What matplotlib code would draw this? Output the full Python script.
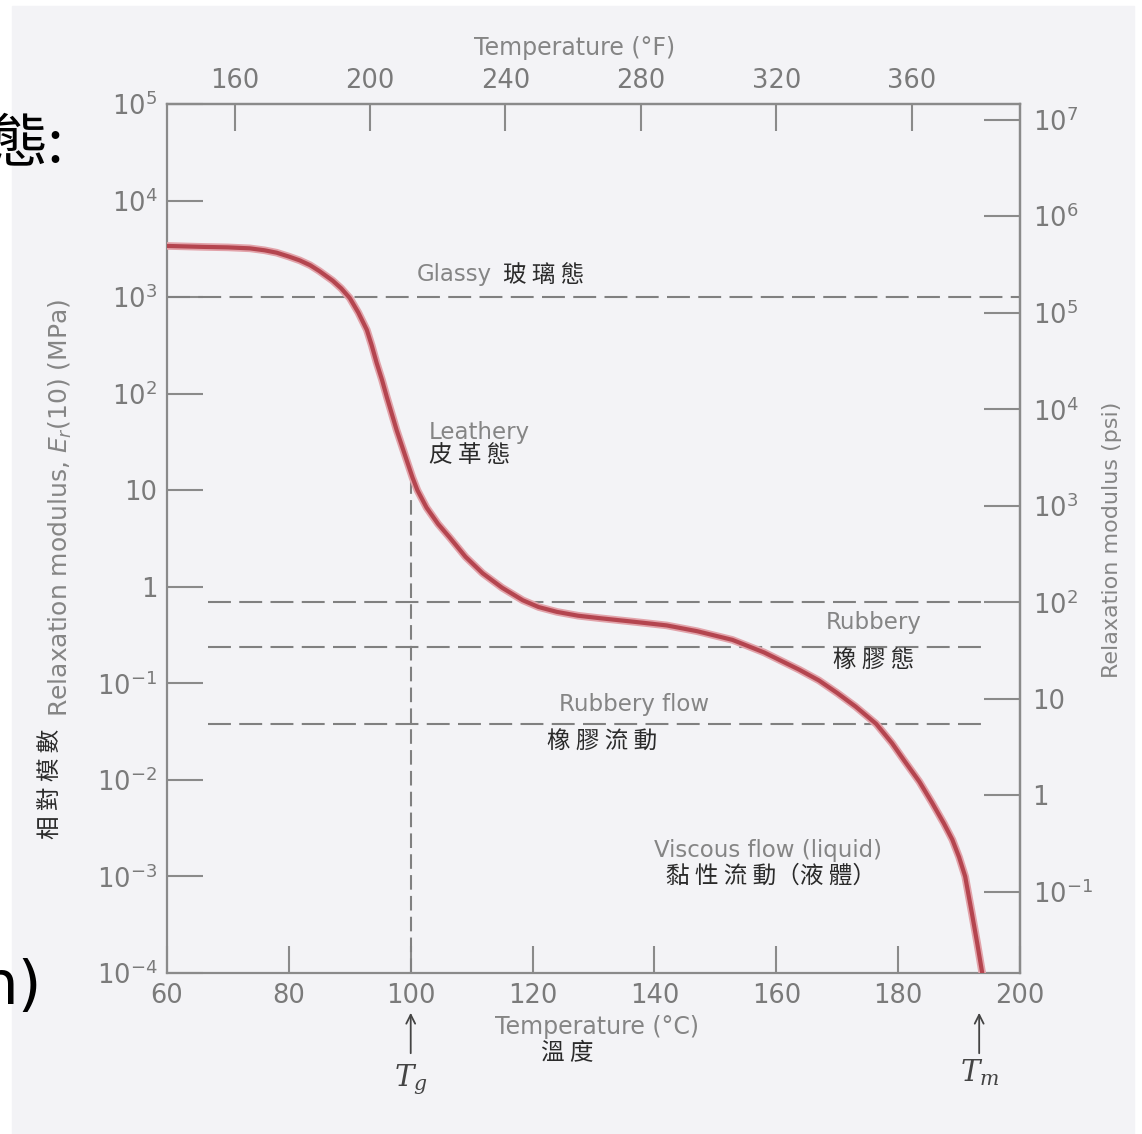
import numpy as np
import matplotlib
matplotlib.use("Agg")
import matplotlib.pyplot as plt
from matplotlib.ticker import NullLocator

plt.rcParams['font.family'] = ['DejaVu Sans', 'Noto Sans CJK TC']

# curve: temperature (C) and log10 of relaxation modulus (MPa)
temperature = [60, 66, 70, 73.6, 76, 78, 80, 81.8, 83.5, 85, 87.2, 88.6, 90, 91.4,
               92.8, 93.6, 94.4, 95.3, 96.1, 96.9, 97.7, 98.6, 99.5, 100.3, 101.1,
               102.6, 104.5, 106.4, 109, 111.8, 115, 118.4, 121, 124, 127.5, 131,
               137, 142, 147, 152.8, 158, 163.8, 167, 170, 173, 176.4, 179, 181,
               183.5, 185.6, 187.5, 188.9, 190, 191, 192.1, 193, 193.8]
log_modulus = [3.53, 3.52, 3.515, 3.505, 3.485, 3.46, 3.42, 3.38, 3.33, 3.27, 3.17,
               3.09, 2.99, 2.84, 2.66, 2.50, 2.32, 2.14, 1.96, 1.79, 1.62, 1.45,
               1.28, 1.13, 1.0, 0.82, 0.65, 0.51, 0.31, 0.14, -0.01, -0.14, -0.21,
               -0.26, -0.30, -0.325, -0.365, -0.40, -0.46, -0.55, -0.68, -0.86,
               -0.97, -1.10, -1.24, -1.42, -1.62, -1.80, -2.02, -2.24, -2.45, -2.62,
               -2.80, -3.0, -3.38, -3.70, -4.0]

# dashed region boundaries (MPa) and their extent in C
boundary_mpa = [1000, 0.69, 0.24, 0.038]
boundary_from = [60, 66.7, 66.7, 66.7]
boundary_to = [200, 193.8, 193.8, 193.8]

tg = 100
tg_modulus = 15
tm = 193.3

c_ticks = [60, 80, 100, 120, 140, 160, 180, 200]
f_ticks = [160, 200, 240, 280, 320, 360]
mpa_ticks = [1e5, 1e4, 1e3, 1e2, 10, 1, 0.1, 0.01, 1e-3, 1e-4]
mpa_labels = [r'$10^{5}$', r'$10^{4}$', r'$10^{3}$', r'$10^{2}$', '10', '1',
              r'$10^{-1}$', r'$10^{-2}$', r'$10^{-3}$', r'$10^{-4}$']
psi_ticks = [1e7, 1e6, 1e5, 1e4, 1e3, 1e2, 10, 1, 0.1]
psi_labels = [r'$10^{7}$', r'$10^{6}$', r'$10^{5}$', r'$10^{4}$', r'$10^{3}$',
              r'$10^{2}$', '10', '1', r'$10^{-1}$']

W, H = 1142, 1134
bg = '#f3f3f6'
grey = '#858585'
tickgrey = '#7a7a7a'
dark = '#2a2a2a'
cjk = ['Noto Sans CJK TC', 'DejaVu Sans']

fig = plt.figure(figsize=(W / 100, H / 100), dpi=100, facecolor='white')
# light scanned page
fig.patches.append(plt.Rectangle((12 / W, 0), 1 - 20 / W, 1 - 6 / H,
                                 transform=fig.transFigure, color=bg, zorder=-5))

ax = fig.add_axes([167 / W, 1 - 973 / H, (1020 - 167) / W, (973 - 104) / H])
ax.set_facecolor('none')
ax.set_yscale('log')
ax.set_xlim(60, 200)
ax.set_ylim(1e-4, 1e5)

E = 10 ** np.array(log_modulus)
ax.plot(temperature, E, color='#e2a3aa', lw=5.5, solid_joinstyle='round', zorder=3)
ax.plot(temperature, E, color='#b4454f', lw=3.0, solid_joinstyle='round', zorder=4)

for y, x0, x1 in zip(boundary_mpa, boundary_from, boundary_to):
    ax.plot([x0, x1], [y, y], color='#808080', lw=1.5, dashes=(11, 4), zorder=2)
ax.plot([tg, tg], [1e-4, tg_modulus], color='#808080', lw=1.5, dashes=(7, 3), zorder=2)

for s in ax.spines.values():
    s.set_color('#8a8a8a')
    s.set_linewidth(1.6)

ax.set_xticks(c_ticks)
ax.set_xticklabels([str(c) for c in c_ticks])
ax.set_yticks(mpa_ticks)
ax.set_yticklabels(mpa_labels)
ax.yaxis.set_minor_locator(NullLocator())
ax.tick_params(axis='x', direction='in', length=19.5, width=1.5, color='#8a8a8a',
               labelcolor=tickgrey, labelsize=18.5, pad=7)
ax.tick_params(axis='y', direction='in', length=26, width=1.5, color='#8a8a8a',
               labelcolor=tickgrey, labelsize=18.5, pad=7)

# top axis in Fahrenheit
top = ax.secondary_xaxis('top', functions=(lambda c: c * 9 / 5 + 32,
                                           lambda f: (f - 32) * 5 / 9))
top.set_xticks(f_ticks)
top.set_xticklabels([str(f) for f in f_ticks])
top.tick_params(direction='in', length=19.5, width=1.5, color='#8a8a8a',
                labelcolor=tickgrey, labelsize=18.5, pad=7)
top.spines['top'].set_color('#8a8a8a')
top.spines['top'].set_linewidth(1.6)

# right axis in psi
right = ax.secondary_yaxis('right', functions=(lambda m: m * 145.04,
                                               lambda p: p / 145.04))
right.set_yticks(psi_ticks)
right.set_yticklabels(psi_labels)
right.yaxis.set_minor_locator(NullLocator())
right.tick_params(direction='in', length=26, width=1.5, color='#8a8a8a',
                  labelcolor=tickgrey, labelsize=18.5, pad=9)
right.spines['right'].set_color('#8a8a8a')
right.spines['right'].set_linewidth(1.6)


def ftext(px, py, s, **kw):
    fig.text(px / W, 1 - py / H, s, **kw)


# axis titles
ftext(575, 48, 'Temperature (°F)', color=grey, fontsize=17, ha='center', va='center')
ftext(597, 1027, 'Temperature (°C)', color=grey, fontsize=17, ha='center', va='center')
ftext(567, 1054, '溫 度', family=cjk, color=dark, fontsize=17, ha='center', va='center')
ftext(60, 508, r'Relaxation modulus, $E_r$(10) (MPa)', color=grey, fontsize=18,
      rotation=90, ha='center', va='center')
ftext(50, 784, '相 對 模 數', family=cjk, color=dark, fontsize=17, rotation=90,
      ha='center', va='center')
ftext(1112, 540, 'Relaxation modulus (psi)', color=grey, fontsize=16,
      rotation=90, ha='center', va='center')

# region labels
ftext(417, 275, 'Glassy', color=grey, fontsize=16.5, ha='left', va='center')
ftext(503, 275, '玻 璃 態', family=cjk, color=dark, fontsize=17, ha='left', va='center')
ftext(429, 432, 'Leathery', color=grey, fontsize=16.5, ha='left', va='center')
ftext(429, 456, '皮 革 態', family=cjk, color=dark, fontsize=17, ha='left', va='center')
ftext(826, 623, 'Rubbery', color=grey, fontsize=16.5, ha='left', va='center')
ftext(833, 661, '橡 膠 態', family=cjk, color=dark, fontsize=17, ha='left', va='center')
ftext(634, 704, 'Rubbery flow', color=grey, fontsize=16.5, ha='center', va='center')
ftext(602, 742, '橡 膠 流 動', family=cjk, color=dark, fontsize=17, ha='center', va='center')
ftext(768, 850, 'Viscous flow (liquid)', color=grey, fontsize=16.5, ha='center', va='center')
ftext(771, 876, '黏 性 流 動（液 體）', family=cjk, color=dark, fontsize=17,
      ha='center', va='center')

# Tg / Tm markers
for t, ylab, name in [(tg, 1080, r'$T_g$'), (tm, 1073, r'$T_m$')]:
    ax.annotate('', xy=(t, 1 - 1010 / H), xytext=(t, 1 - 1056 / H),
                xycoords=('data', 'figure fraction'),
                textcoords=('data', 'figure fraction'),
                arrowprops=dict(arrowstyle='->', color='#444444', lw=1.3,
                                mutation_scale=16))
    ax.annotate(name, xy=(t, 1 - ylab / H), xycoords=('data', 'figure fraction'),
                ha='center', va='center', fontsize=21, color='#444444',
                math_fontfamily='dejavuserif')

# cut-off slide text at the left edge (cut off in the reference too)
ftext(64, 145, '態:', family=cjk, color='black', fontsize=42, ha='right', va='center')
ftext(42, 988, 'n)', color='black', fontsize=44, ha='right', va='center')

plt.savefig('out.png', dpi=100, facecolor=fig.get_facecolor())
